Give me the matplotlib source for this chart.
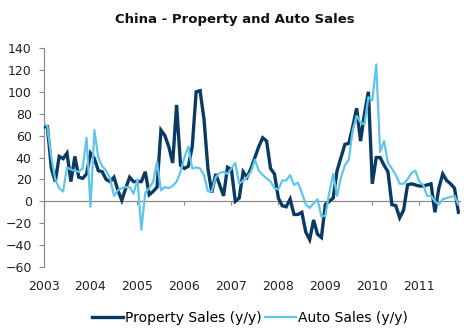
import numpy as np
import matplotlib
matplotlib.use('Agg')
import matplotlib.pyplot as plt

# monthly y/y growth, Jan 2003 - Nov 2011
start_year = 2003
property_sales = [68, 68, 30, 18, 41, 39, 44, 18, 41, 22, 21, 25,
                  44, 39, 28, 27, 20, 18, 22, 10, 1, 12, 22, 18,
                  18, 18, 27, 6, 9, 13, 65, 60, 50, 35, 88, 33,
                  30, 32, 50, 100, 101, 75, 30, 8, 25, 15, 5, 31,
                  29, 0, 3, 27, 22, 30, 40, 50, 58, 55, 30, 25,
                  3, -4, -5, 2, -12, -12, -10, -28, -35, -17, -30, -33,
                  -3, 0, 3, 28, 40, 52, 53, 68, 85, 55, 80, 100,
                  16, 40, 40, 33, 27, -3, -4, -15, -8, 15, 16, 15,
                  14, 14, 15, 16, -10, 12, 25, 19, 16, 12, -10]
auto_sales = [72, 68, 40, 20, 12, 9, 31, 29, 28, 27, 30, 58,
              -5, 65, 40, 32, 28, 21, 5, 10, 12, 13, 13, 7,
              20, -26, 8, 12, 18, 36, 10, 13, 12, 14, 18, 27,
              40, 50, 30, 31, 30, 24, 9, 9, 22, 26, 27, 25,
              30, 35, 16, 19, 22, 27, 38, 28, 24, 21, 18, 12,
              11, 19, 19, 24, 15, 17, 8, -3, -6, -2, 2, -14,
              -13, 8, 25, 5, 22, 33, 38, 65, 78, 72, 70, 95,
              92, 125, 45, 55, 35, 30, 24, 16, 16, 20, 26, 28,
              18, 15, 5, 5, 0, -3, 2, 3, 4, 5, -3]
years = list(range(2003, 2012))
y_ticks = list(range(-60, 141, 20))

DARK = '#0a3a62'
LIGHT = '#5ec6ec'
GREY = '#8a8a8a'

plt.rcParams['font.family'] = ['DejaVu Sans']

fig = plt.figure(figsize=(4.7, 3.33), dpi=100)
ax = fig.add_axes([0.0926, 0.198, 0.8864, 0.658])

t = start_year + np.arange(len(property_sales)) / 12.0
ax.plot(t, property_sales, color=DARK, lw=2.4, label='Property Sales (y/y)',
        solid_joinstyle='miter', zorder=3)
ax.plot(t, auto_sales, color=LIGHT, lw=1.6, label='Auto Sales (y/y)', zorder=4)

ax.set_ylim(-60, 140)
ax.set_xlim(2003, 2011.87)
ax.set_yticks(y_ticks)
ax.tick_params(axis='y', direction='out', length=3.5, width=0.8, color=GREY,
               labelsize=9, pad=5, labelcolor='#222222')

# horizontal axis sits on the zero line, year labels stay at the bottom
for side in ('top', 'right'):
    ax.spines[side].set_visible(False)
ax.spines['left'].set_color(GREY)
ax.spines['left'].set_linewidth(0.9)
ax.spines['bottom'].set_position(('data', 0))
ax.spines['bottom'].set_color(GREY)
ax.spines['bottom'].set_linewidth(0.9)
ax.set_xticks(years)
ax.tick_params(axis='x', direction='out', length=3, width=0.8, color=GREY,
               labelbottom=False)

sec = ax.secondary_xaxis(0)
sec.set_xticks(years)
sec.set_xticklabels([str(y) for y in years])
sec.tick_params(axis='x', length=0, labelsize=9, pad=9, labelcolor='#222222')
sec.spines['bottom'].set_visible(False)

fig.suptitle('China - Property and Auto Sales', x=0.5, y=0.96,
             fontsize=9.5, fontweight='bold', color='#111111')

fig.legend(loc='center', bbox_to_anchor=(0.532, 0.045), ncol=2, frameon=False,
           fontsize=10, handlelength=2.2, handletextpad=0.15, columnspacing=0.25)

fig.savefig('out.png', dpi=100)
